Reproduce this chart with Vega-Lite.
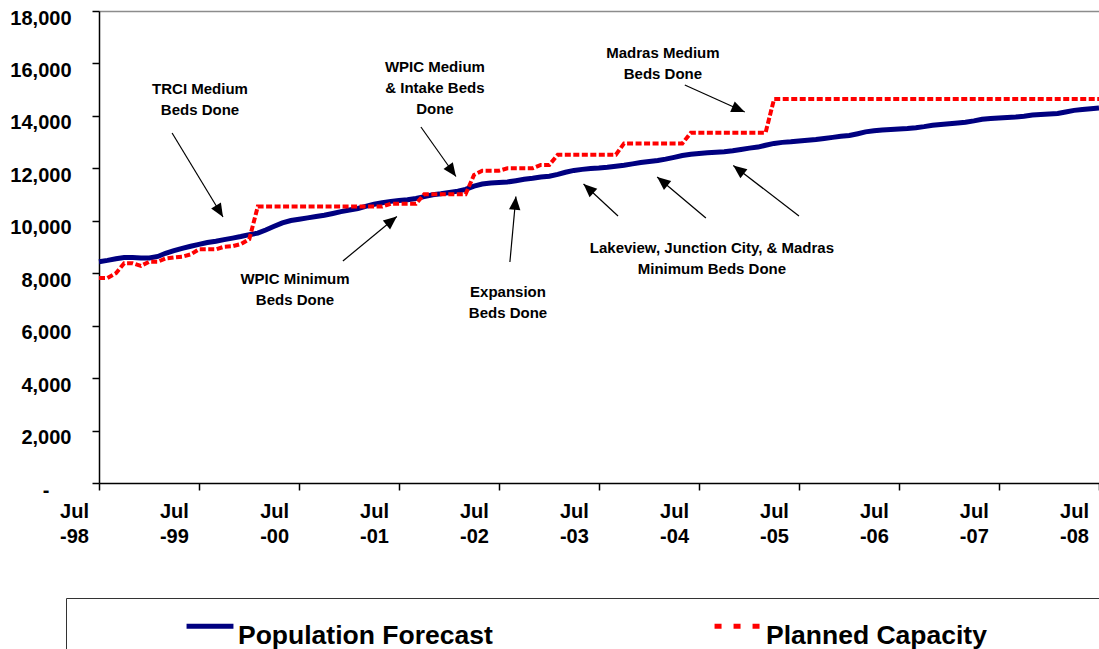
{
  "$schema": "https://vega.github.io/schema/vega-lite/v6.json",
  "width": 1000,
  "height": 472,
  "autosize": {"type": "none"},
  "padding": {"left": 99, "top": 11, "right": 0, "bottom": 166},
  "background": "white",
  "config": {
    "view": {"stroke": null},
    "font": "Liberation Sans",
    "axis": {"labelFont": "Liberation Sans", "labelFontWeight": "bold", "labelColor": "#000", "domainColor": "#000", "tickColor": "#000", "domainWidth": 1.5, "tickWidth": 1.5, "labelFlush": false, "labelOverlap": false}
  },
  "datasets": {
    "series": [
      {"date":"1998-07-01","Population Forecast":8440,"Planned Capacity":7820},
      {"date":"1998-08-01","Population Forecast":8490,"Planned Capacity":7820},
      {"date":"1998-09-01","Population Forecast":8550,"Planned Capacity":8000},
      {"date":"1998-10-01","Population Forecast":8600,"Planned Capacity":8380},
      {"date":"1998-11-01","Population Forecast":8600,"Planned Capacity":8380},
      {"date":"1998-12-01","Population Forecast":8580,"Planned Capacity":8280},
      {"date":"1999-01-01","Population Forecast":8580,"Planned Capacity":8440},
      {"date":"1999-02-01","Population Forecast":8640,"Planned Capacity":8440},
      {"date":"1999-03-01","Population Forecast":8760,"Planned Capacity":8560},
      {"date":"1999-04-01","Population Forecast":8860,"Planned Capacity":8600},
      {"date":"1999-05-01","Population Forecast":8950,"Planned Capacity":8630},
      {"date":"1999-06-01","Population Forecast":9030,"Planned Capacity":8720},
      {"date":"1999-07-01","Population Forecast":9100,"Planned Capacity":8910},
      {"date":"1999-08-01","Population Forecast":9170,"Planned Capacity":8910},
      {"date":"1999-09-01","Population Forecast":9220,"Planned Capacity":8910},
      {"date":"1999-10-01","Population Forecast":9280,"Planned Capacity":9010},
      {"date":"1999-11-01","Population Forecast":9340,"Planned Capacity":9030},
      {"date":"1999-12-01","Population Forecast":9400,"Planned Capacity":9110},
      {"date":"2000-01-01","Population Forecast":9470,"Planned Capacity":9300},
      {"date":"2000-02-01","Population Forecast":9530,"Planned Capacity":10540},
      {"date":"2000-03-01","Population Forecast":9650,"Planned Capacity":10540},
      {"date":"2000-04-01","Population Forecast":9790,"Planned Capacity":10540},
      {"date":"2000-05-01","Population Forecast":9920,"Planned Capacity":10540},
      {"date":"2000-06-01","Population Forecast":10010,"Planned Capacity":10540},
      {"date":"2000-07-01","Population Forecast":10060,"Planned Capacity":10540},
      {"date":"2000-08-01","Population Forecast":10110,"Planned Capacity":10540},
      {"date":"2000-09-01","Population Forecast":10160,"Planned Capacity":10540},
      {"date":"2000-10-01","Population Forecast":10210,"Planned Capacity":10540},
      {"date":"2000-11-01","Population Forecast":10280,"Planned Capacity":10540},
      {"date":"2000-12-01","Population Forecast":10350,"Planned Capacity":10540},
      {"date":"2001-01-01","Population Forecast":10410,"Planned Capacity":10540},
      {"date":"2001-02-01","Population Forecast":10470,"Planned Capacity":10540},
      {"date":"2001-03-01","Population Forecast":10550,"Planned Capacity":10540},
      {"date":"2001-04-01","Population Forecast":10630,"Planned Capacity":10540},
      {"date":"2001-05-01","Population Forecast":10690,"Planned Capacity":10540},
      {"date":"2001-06-01","Population Forecast":10740,"Planned Capacity":10650},
      {"date":"2001-07-01","Population Forecast":10770,"Planned Capacity":10650},
      {"date":"2001-08-01","Population Forecast":10800,"Planned Capacity":10650},
      {"date":"2001-09-01","Population Forecast":10850,"Planned Capacity":10650},
      {"date":"2001-10-01","Population Forecast":10920,"Planned Capacity":11010},
      {"date":"2001-11-01","Population Forecast":10990,"Planned Capacity":11010},
      {"date":"2001-12-01","Population Forecast":11030,"Planned Capacity":11010},
      {"date":"2002-01-01","Population Forecast":11080,"Planned Capacity":11010},
      {"date":"2002-02-01","Population Forecast":11130,"Planned Capacity":11010},
      {"date":"2002-03-01","Population Forecast":11200,"Planned Capacity":11010},
      {"date":"2002-04-01","Population Forecast":11320,"Planned Capacity":11750},
      {"date":"2002-05-01","Population Forecast":11400,"Planned Capacity":11910},
      {"date":"2002-06-01","Population Forecast":11440,"Planned Capacity":11910},
      {"date":"2002-07-01","Population Forecast":11460,"Planned Capacity":11910},
      {"date":"2002-08-01","Population Forecast":11480,"Planned Capacity":12000},
      {"date":"2002-09-01","Population Forecast":11530,"Planned Capacity":12000},
      {"date":"2002-10-01","Population Forecast":11580,"Planned Capacity":12000},
      {"date":"2002-11-01","Population Forecast":11620,"Planned Capacity":12000},
      {"date":"2002-12-01","Population Forecast":11670,"Planned Capacity":12130},
      {"date":"2003-01-01","Population Forecast":11700,"Planned Capacity":12130},
      {"date":"2003-02-01","Population Forecast":11770,"Planned Capacity":12520},
      {"date":"2003-03-01","Population Forecast":11850,"Planned Capacity":12520},
      {"date":"2003-04-01","Population Forecast":11920,"Planned Capacity":12520},
      {"date":"2003-05-01","Population Forecast":11960,"Planned Capacity":12520},
      {"date":"2003-06-01","Population Forecast":11990,"Planned Capacity":12520},
      {"date":"2003-07-01","Population Forecast":12010,"Planned Capacity":12520},
      {"date":"2003-08-01","Population Forecast":12040,"Planned Capacity":12520},
      {"date":"2003-09-01","Population Forecast":12080,"Planned Capacity":12520},
      {"date":"2003-10-01","Population Forecast":12120,"Planned Capacity":12950},
      {"date":"2003-11-01","Population Forecast":12170,"Planned Capacity":12950},
      {"date":"2003-12-01","Population Forecast":12220,"Planned Capacity":12950},
      {"date":"2004-01-01","Population Forecast":12260,"Planned Capacity":12950},
      {"date":"2004-02-01","Population Forecast":12300,"Planned Capacity":12950},
      {"date":"2004-03-01","Population Forecast":12350,"Planned Capacity":12950},
      {"date":"2004-04-01","Population Forecast":12420,"Planned Capacity":12950},
      {"date":"2004-05-01","Population Forecast":12490,"Planned Capacity":12950},
      {"date":"2004-06-01","Population Forecast":12540,"Planned Capacity":13360},
      {"date":"2004-07-01","Population Forecast":12570,"Planned Capacity":13360},
      {"date":"2004-08-01","Population Forecast":12590,"Planned Capacity":13360},
      {"date":"2004-09-01","Population Forecast":12610,"Planned Capacity":13360},
      {"date":"2004-10-01","Population Forecast":12630,"Planned Capacity":13360},
      {"date":"2004-11-01","Population Forecast":12670,"Planned Capacity":13360},
      {"date":"2004-12-01","Population Forecast":12720,"Planned Capacity":13360},
      {"date":"2005-01-01","Population Forecast":12770,"Planned Capacity":13360},
      {"date":"2005-02-01","Population Forecast":12810,"Planned Capacity":13360},
      {"date":"2005-03-01","Population Forecast":12880,"Planned Capacity":13360},
      {"date":"2005-04-01","Population Forecast":12950,"Planned Capacity":14640},
      {"date":"2005-05-01","Population Forecast":12990,"Planned Capacity":14640},
      {"date":"2005-06-01","Population Forecast":13010,"Planned Capacity":14640},
      {"date":"2005-07-01","Population Forecast":13040,"Planned Capacity":14640},
      {"date":"2005-08-01","Population Forecast":13070,"Planned Capacity":14640},
      {"date":"2005-09-01","Population Forecast":13100,"Planned Capacity":14640},
      {"date":"2005-10-01","Population Forecast":13140,"Planned Capacity":14640},
      {"date":"2005-11-01","Population Forecast":13180,"Planned Capacity":14640},
      {"date":"2005-12-01","Population Forecast":13220,"Planned Capacity":14640},
      {"date":"2006-01-01","Population Forecast":13250,"Planned Capacity":14640},
      {"date":"2006-02-01","Population Forecast":13320,"Planned Capacity":14640},
      {"date":"2006-03-01","Population Forecast":13390,"Planned Capacity":14640},
      {"date":"2006-04-01","Population Forecast":13430,"Planned Capacity":14640},
      {"date":"2006-05-01","Population Forecast":13460,"Planned Capacity":14640},
      {"date":"2006-06-01","Population Forecast":13480,"Planned Capacity":14640},
      {"date":"2006-07-01","Population Forecast":13500,"Planned Capacity":14640},
      {"date":"2006-08-01","Population Forecast":13520,"Planned Capacity":14640},
      {"date":"2006-09-01","Population Forecast":13550,"Planned Capacity":14640},
      {"date":"2006-10-01","Population Forecast":13590,"Planned Capacity":14640},
      {"date":"2006-11-01","Population Forecast":13640,"Planned Capacity":14640},
      {"date":"2006-12-01","Population Forecast":13670,"Planned Capacity":14640},
      {"date":"2007-01-01","Population Forecast":13700,"Planned Capacity":14640},
      {"date":"2007-02-01","Population Forecast":13730,"Planned Capacity":14640},
      {"date":"2007-03-01","Population Forecast":13760,"Planned Capacity":14640},
      {"date":"2007-04-01","Population Forecast":13810,"Planned Capacity":14640},
      {"date":"2007-05-01","Population Forecast":13870,"Planned Capacity":14640},
      {"date":"2007-06-01","Population Forecast":13900,"Planned Capacity":14640},
      {"date":"2007-07-01","Population Forecast":13920,"Planned Capacity":14640},
      {"date":"2007-08-01","Population Forecast":13940,"Planned Capacity":14640},
      {"date":"2007-09-01","Population Forecast":13960,"Planned Capacity":14640},
      {"date":"2007-10-01","Population Forecast":13990,"Planned Capacity":14640},
      {"date":"2007-11-01","Population Forecast":14030,"Planned Capacity":14640},
      {"date":"2007-12-01","Population Forecast":14050,"Planned Capacity":14640},
      {"date":"2008-01-01","Population Forecast":14070,"Planned Capacity":14640},
      {"date":"2008-02-01","Population Forecast":14090,"Planned Capacity":14640},
      {"date":"2008-03-01","Population Forecast":14150,"Planned Capacity":14640},
      {"date":"2008-04-01","Population Forecast":14210,"Planned Capacity":14640},
      {"date":"2008-05-01","Population Forecast":14240,"Planned Capacity":14640},
      {"date":"2008-06-01","Population Forecast":14270,"Planned Capacity":14640},
      {"date":"2008-07-01","Population Forecast":14300,"Planned Capacity":14640}
    ],
    "notes": [
      {"date":"1999-07-05","value":15026,"text":"TRCI Medium\nBeds Done"},
      {"date":"2000-06-16","value":7780,"text":"WPIC Minimum\nBeds Done"},
      {"date":"2001-11-09","value":15865,"text":"WPIC Medium\n& Intake Beds\nDone"},
      {"date":"2002-08-03","value":7284,"text":"Expansion\nBeds Done"},
      {"date":"2004-08-17","value":8962,"text":"Lakeview, Junction City, & Madras\nMinimum Beds Done"},
      {"date":"2004-02-20","value":16398,"text":"Madras Medium\nBeds Done"}
    ],
    "arrows": [
      {"x1":"1999-03-25","y1":13348,"x2":"1999-09-27","y2":10144,"angle":148.7},
      {"x1":"2000-12-08","y1":8466,"x2":"2001-06-23","y2":10163,"angle":50.7},
      {"x1":"2001-09-19","y1":13576,"x2":"2002-01-25","y2":11689,"angle":144.5},
      {"x1":"2002-08-10","y1":8428,"x2":"2002-09-01","y2":10926,"angle":5.2},
      {"x1":"2003-09-09","y1":10182,"x2":"2003-05-06","y2":11403,"angle":312.5},
      {"x1":"2004-07-26","y1":10106,"x2":"2004-01-30","y2":11670,"angle":309.2},
      {"x1":"2005-07-01","y1":10182,"x2":"2004-11-03","y2":12108,"angle":307.7},
      {"x1":"2004-05-10","y1":15178,"x2":"2004-12-15","y2":14148,"angle":113.4}
    ]
  },
  "layer": [
    {
      "data": {"name": "series"},
      "transform": [
        {"fold": ["Population Forecast", "Planned Capacity"], "as": ["series", "value"]},
        {"filter": "datum.series == 'Population Forecast'"}
      ],
      "mark": {"type": "line", "strokeWidth": 5, "strokeCap": "butt"},
      "encoding": {
        "x": {
          "field": "date", "type": "temporal", "title": null,
          "scale": {"type": "utc", "domain": [{"year": 1998, "month": 7, "date": 1, "utc": true}, {"year": 2008, "month": 7, "date": 1, "utc": true}]},
          "axis": {
            "values": [
              {"year": 1998, "month": 7, "date": 1, "utc": true},
              {"year": 1999, "month": 7, "date": 1, "utc": true},
              {"year": 2000, "month": 7, "date": 1, "utc": true},
              {"year": 2001, "month": 7, "date": 1, "utc": true},
              {"year": 2002, "month": 7, "date": 1, "utc": true},
              {"year": 2003, "month": 7, "date": 1, "utc": true},
              {"year": 2004, "month": 7, "date": 1, "utc": true},
              {"year": 2005, "month": 7, "date": 1, "utc": true},
              {"year": 2006, "month": 7, "date": 1, "utc": true},
              {"year": 2007, "month": 7, "date": 1, "utc": true},
              {"year": 2008, "month": 7, "date": 1, "utc": true}
            ],
            "title": null,
            "labelExpr": "['Jul', '-' + utcFormat(datum.value, '%y')]",
            "labelFontSize": 20,
            "labelLineHeight": 25,
            "labelAlign": "center",
            "labelBaseline": "top",
            "labelOffset": -25,
            "labelPadding": 11,
            "tickSize": 7,
            "grid": false
          }
        },
        "y": {
          "field": "value", "type": "quantitative", "title": null,
          "scale": {"domain": [0, 18000], "nice": false},
          "axis": {
            "values": [0, 2000, 4000, 6000, 8000, 10000, 12000, 14000, 16000, 18000],
            "title": null,
            "labelExpr": "datum.value == 0 ? '-' : format(datum.value, ',')",
            "labelFontSize": 20,
            "labelOffset": 7,
            "labelPadding": {"condition": {"test": "datum.value == 0", "value": 43}, "value": 21},
            "tickSize": 7,
            "grid": true,
            "gridColor": "#8c8c8c",
            "gridWidth": 1.5,
            "gridOpacity": {"condition": {"test": "datum.value == 18000", "value": 1}, "value": 0}
          }
        },
        "color": {
          "field": "series", "type": "nominal",
          "scale": {"domain": ["Population Forecast", "Planned Capacity", " "], "range": ["#000080", "#FF0000", "#FFFFFF"]},
          "legend": {
            "title": " ",
            "titleOrient": "left",
            "titleFontSize": 2,
            "titlePadding": 116,
            "orient": "none",
            "legendX": -33,
            "legendY": 587,
            "direction": "horizontal",
            "padding": 2,
            "strokeColor": "#333333",
            "symbolType": "stroke",
            "symbolSize": 2200,
            "symbolStrokeWidth": 5,
            "labelFont": "Liberation Sans",
            "labelFontSize": 26.5,
            "labelFontWeight": "bold",
            "labelColor": "#000",
            "labelOffset": 2,
            "labelLimit": 1000,
            "columnPadding": 211,
            "encode": {
              "symbols": {"update": {"strokeDash": {"signal": "datum.value == 'Planned Capacity' ? [7, 12] : [1, 0]"}}},
              "labels": {"update": {"dy": {"value": 10}}}
            }
          }
        }
      }
    },
    {
      "data": {"name": "series"},
      "transform": [
        {"fold": ["Population Forecast", "Planned Capacity"], "as": ["series", "value"]},
        {"filter": "datum.series == 'Planned Capacity'"}
      ],
      "mark": {"type": "line", "strokeWidth": 4, "strokeDash": [6, 2.5], "strokeCap": "butt"},
      "encoding": {
        "x": {"field": "date", "type": "temporal", "title": null},
        "y": {"field": "value", "type": "quantitative", "title": null},
        "color": {"field": "series", "type": "nominal"}
      }
    },
    {
      "data": {"name": "arrows"},
      "mark": {"type": "rule", "color": "#000", "strokeWidth": 1.2},
      "encoding": {
        "x": {"field": "x1", "type": "temporal", "title": null},
        "y": {"field": "y1", "type": "quantitative", "title": null},
        "x2": {"field": "x2"},
        "y2": {"field": "y2"}
      }
    },
    {
      "data": {"name": "arrows"},
      "mark": {"type": "point", "shape": "M0,0L0.85,2L-0.85,2Z", "filled": true, "color": "#000", "opacity": 1, "size": 180, "strokeWidth": 0},
      "encoding": {
        "x": {"field": "x2", "type": "temporal", "title": null},
        "y": {"field": "y2", "type": "quantitative", "title": null},
        "angle": {"field": "angle", "type": "quantitative", "scale": null}
      }
    },
    {
      "data": {"name": "notes"},
      "mark": {"type": "text", "font": "Liberation Sans", "fontWeight": "bold", "fontSize": 15, "lineBreak": "\n", "lineHeight": 21, "align": "center", "baseline": "middle", "color": "#000"},
      "encoding": {
        "x": {"field": "date", "type": "temporal", "title": null},
        "y": {"field": "value", "type": "quantitative", "title": null},
        "text": {"field": "text", "type": "nominal"}
      }
    }
  ]
}
